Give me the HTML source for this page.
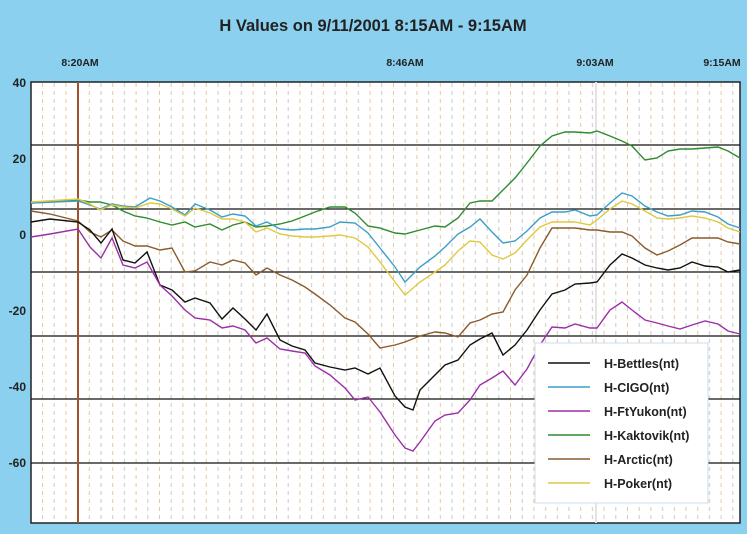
<!DOCTYPE html><html><head><style>body{margin:0;background:#87ceeb;}svg{display:block}</style></head><body>
<svg width="747" height="534" xmlns="http://www.w3.org/2000/svg" font-family="Liberation Sans, sans-serif">
<defs>
<pattern id="vp" x="42" y="83" width="23.4" height="8" patternUnits="userSpaceOnUse">
<rect x="0" y="0" width="1" height="4" fill="#e2c9a0"/>
<rect x="11.7" y="0" width="1" height="4" fill="#c8c8c8"/>
</pattern>
</defs>
<rect width="747" height="534" fill="#8bd0ef"/>
<text x="373" y="31" text-anchor="middle" font-size="16.5" font-weight="bold" fill="#222">H Values on 9/11/2001 8:15AM - 9:15AM</text>
<g font-size="10.5" font-weight="bold" fill="#222" text-anchor="middle">
<text x="80" y="66">8:20AM</text><text x="405" y="66">8:46AM</text><text x="595" y="66">9:03AM</text><text x="722" y="66">9:15AM</text></g>
<g font-size="12" font-weight="bold" fill="#222" text-anchor="end">
<text x="26" y="87">40</text><text x="26" y="163">20</text><text x="26" y="239">0</text><text x="26" y="315">-20</text><text x="26" y="391">-40</text><text x="26" y="467">-60</text></g>
<rect x="31" y="82" width="709" height="441" fill="#fff"/>
<rect x="41" y="83" width="698" height="439" fill="url(#vp)"/>
<rect x="31" y="82" width="709" height="441" fill="none" stroke="#222" stroke-width="1.5"/>
<line x1="596" y1="82" x2="596" y2="523" stroke="#e4e4e4" stroke-width="2"/>
<g stroke="#111" stroke-width="1.3">
<line x1="31" y1="145" x2="740" y2="145"/><line x1="31" y1="209" x2="740" y2="209"/><line x1="31" y1="272" x2="740" y2="272"/><line x1="31" y1="336" x2="740" y2="336"/><line x1="31" y1="399" x2="740" y2="399"/><line x1="31" y1="463" x2="740" y2="463"/></g>
<line x1="78" y1="82" x2="78" y2="523" stroke="#a0522d" stroke-width="2"/>
<g fill="none" stroke-width="1.4">
<polyline stroke="#2e8b2e" points="31,203 50,202 78,200 90,202 100,202 112,205 123,211 135,216 147,218 160,222 172,225 185,222 195,227 210,224 222,230 233,225 245,222 256,227 267,226 280,224 292,221 305,216 315,212 330,207 345,207 355,213 368,226 380,228 395,233 405,234 420,230 435,226 445,227 458,218 470,203 480,201 492,201 503,190 515,178 527,163 540,146 552,136 565,132 575,132 590,133 597,131 610,136 622,141 632,146 645,160 657,158 668,151 680,149 692,149 705,148 718,147 728,151 740,158"/>
<polyline stroke="#3a9fc8" points="31,203 78,201 90,205 100,209 112,204 123,206 135,207 150,198 160,201 172,207 185,215 195,204 210,210 222,217 233,214 245,216 256,226 267,222 280,229 292,230 305,229 315,229 330,227 340,222 355,223 368,233 380,248 395,267 405,282 420,267 435,256 445,247 458,234 470,227 480,219 492,232 503,243 515,241 527,231 540,218 552,212 565,212 575,210 590,216 597,215 610,203 622,193 632,196 645,206 657,212 668,216 680,215 692,211 705,212 718,217 728,224 740,228"/>
<polyline stroke="#e0c840" points="31,202 78,199 90,204 100,210 112,205 123,207 135,208 150,203 160,204 172,209 185,216 195,208 210,213 222,219 233,219 245,222 256,232 267,228 280,234 292,236 305,237 315,237 330,236 340,235 355,238 368,247 380,262 395,282 405,295 420,282 435,272 445,265 458,251 470,241 480,242 492,255 503,259 515,253 527,240 540,227 552,222 565,222 575,222 590,225 597,220 610,209 622,201 632,204 645,211 657,218 668,219 680,218 692,216 705,218 718,222 728,228 740,232"/>
<polyline stroke="#8b5a2b" points="31,211 50,214 78,221 90,232 101,237 112,230 123,241 135,246 147,246 160,250 172,248 185,272 195,271 210,262 222,265 233,260 245,263 256,275 267,268 280,275 292,280 305,287 315,294 330,305 345,318 355,322 368,334 380,348 395,345 405,342 420,336 435,332 445,333 458,337 470,323 480,320 492,314 503,312 515,290 527,275 540,248 552,228 565,228 575,228 590,230 597,230 610,232 622,232 632,236 645,248 657,255 668,251 680,245 692,238 705,238 718,238 728,242 740,244"/>
<polyline stroke="#111" points="31,222 50,219 78,222 90,230 101,243 112,229 123,260 135,263 147,252 160,285 172,290 185,302 195,298 210,303 222,319 233,308 245,319 256,330 267,314 280,340 292,346 305,350 315,363 330,367 345,370 355,368 368,374 380,368 395,396 405,407 413,410 420,390 435,375 445,365 458,360 470,345 480,339 492,333 503,355 515,345 527,330 540,310 552,294 565,290 575,284 590,283 597,282 610,265 622,254 632,258 645,265 657,268 668,270 680,268 692,262 705,266 718,267 728,272 740,270"/>
<polyline stroke="#9b2fa8" points="31,237 50,234 78,229 90,247 101,258 112,238 123,265 135,268 147,262 160,285 172,296 185,310 195,318 210,320 222,328 233,326 245,330 256,343 267,338 280,349 292,351 305,353 315,366 330,375 345,388 355,400 368,397 380,412 395,435 405,448 413,451 420,442 435,421 445,415 458,413 470,400 480,385 492,378 503,371 515,385 527,369 540,345 552,327 565,328 575,324 590,328 597,328 610,310 622,302 632,310 645,320 657,323 668,326 680,329 692,325 705,321 718,324 728,331 740,334"/>
</g>
<rect x="535" y="343" width="173" height="160" fill="#fff" stroke="#cde" stroke-width="1"/>
<g stroke-width="1.5">
<line x1="548" y1="363" x2="590" y2="363" stroke="#111"/><line x1="548" y1="387" x2="590" y2="387" stroke="#3a9fc8"/><line x1="548" y1="411" x2="590" y2="411" stroke="#9b2fa8"/><line x1="548" y1="435" x2="590" y2="435" stroke="#2e8b2e"/><line x1="548" y1="459" x2="590" y2="459" stroke="#8b5a2b"/><line x1="548" y1="483" x2="590" y2="483" stroke="#e0c840"/></g>
<g font-size="12.5" font-weight="bold" fill="#222">
<text x="604" y="368">H-Bettles(nt)</text><text x="604" y="392">H-CIGO(nt)</text><text x="604" y="416">H-FtYukon(nt)</text><text x="604" y="440">H-Kaktovik(nt)</text><text x="604" y="464">H-Arctic(nt)</text><text x="604" y="488">H-Poker(nt)</text></g>
</svg></body></html>
